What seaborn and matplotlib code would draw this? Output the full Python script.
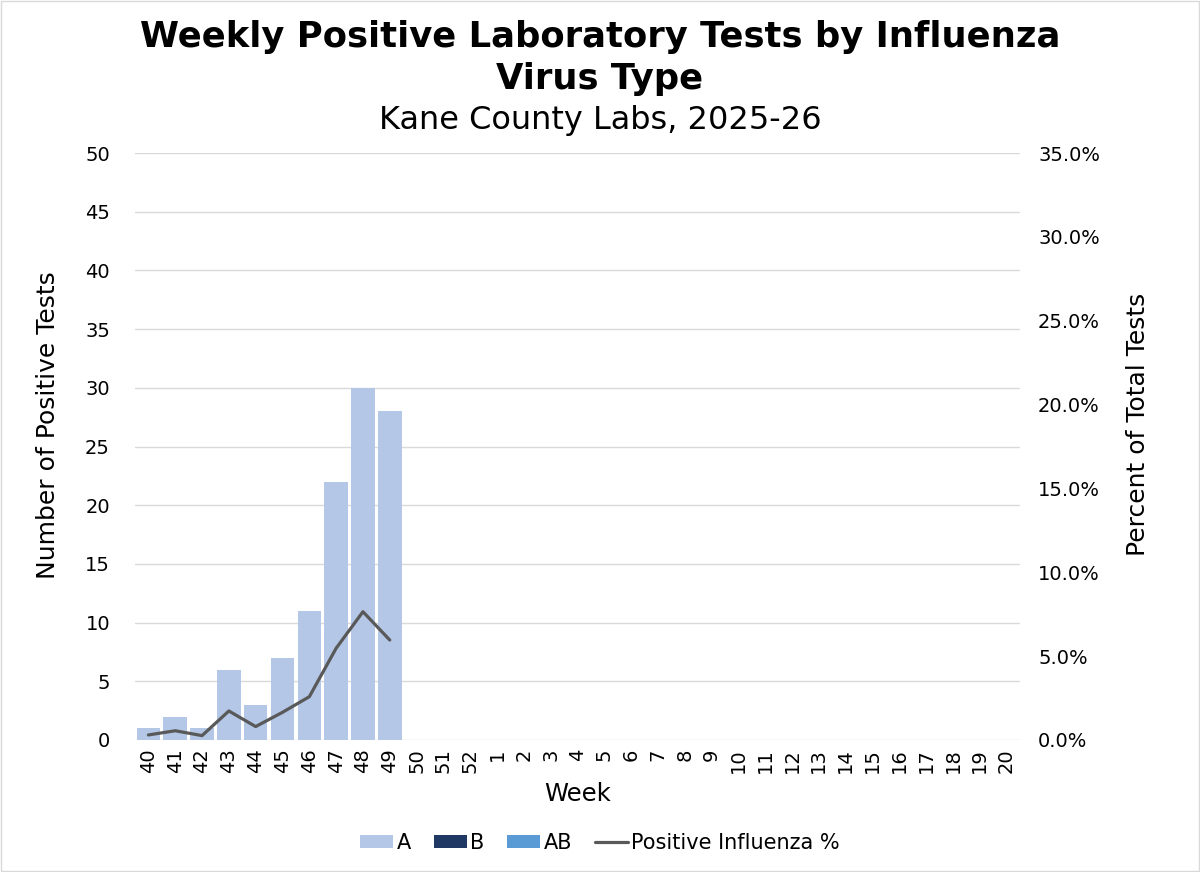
import numpy as np
import pandas as pd
import matplotlib
matplotlib.use('Agg')
import matplotlib.pyplot as plt
import seaborn as sns
from matplotlib.ticker import PercentFormatter

# data
weeks = [str(w) for w in range(40, 53)] + [str(w) for w in range(1, 21)]
count_a = [1, 2, 1, 6, 3, 7, 11, 22, 30, 28] + [0] * 23
count_b = [0] * 33
count_ab = [0] * 33
pct_positive = [0.3, 0.55, 0.26, 1.73, 0.8, 1.65, 2.58, 5.47, 7.65, 5.96]

sns.set_theme(style='white')
plt.rcParams['font.family'] = ['DejaVu Sans']
plt.rcParams['text.color'] = 'black'
plt.rcParams['axes.labelcolor'] = 'black'
plt.rcParams['xtick.color'] = 'black'
plt.rcParams['ytick.color'] = 'black'

df = pd.DataFrame({
    'Week': weeks * 3,
    'Count': count_a + count_b + count_ab,
    'Type': ['A'] * 33 + ['B'] * 33 + ['AB'] * 33,
})

fig = plt.figure(figsize=(12, 8.72), dpi=100)
ax = fig.add_axes([0.1125, 0.1514, 0.7375, 0.673])

sns.barplot(data=df, x='Week', y='Count', hue='Type', order=weeks,
            hue_order=['A', 'B', 'AB'], dodge=False, width=0.88,
            saturation=1, linewidth=0,
            palette={'A': '#B4C7E7', 'B': '#203864', 'AB': '#5B9BD5'},
            ax=ax, legend=True)

ax.set_ylim(0, 50)
ax.set_yticks(range(0, 51, 5))
ax.set_xlim(-0.5, len(weeks) - 0.5)
ax.yaxis.grid(True, color='#D9D9D9', linewidth=1)
ax.set_axisbelow(True)
for s in ax.spines.values():
    s.set_visible(False)
ax.tick_params(axis='x', rotation=90, labelsize=14, length=0, pad=6)
ax.tick_params(axis='y', labelsize=14, length=0, pad=18)
ax.set_xlabel('Week', fontsize=17.5, labelpad=6)
ax.set_ylabel('Number of Positive Tests', fontsize=18)
ax.yaxis.set_label_coords(-0.085, 0.537)

ax2 = ax.twinx()
sns.lineplot(x=np.arange(len(pct_positive)), y=pct_positive, ax=ax2,
             color='#595959', linewidth=2.3, label='Positive Influenza %',
             legend=False)
ax2.set_ylim(0, 35)
ax2.set_yticks(np.arange(0, 36, 5))
ax2.yaxis.set_major_formatter(PercentFormatter(decimals=1))
ax2.tick_params(axis='y', labelsize=14, length=0, pad=13)
ax2.set_ylabel('Percent of Total Tests', fontsize=18)
ax2.yaxis.set_label_coords(1.120, 0.537)
for s in ax2.spines.values():
    s.set_visible(False)

h1, l1 = ax.get_legend_handles_labels()
h2, l2 = ax2.get_legend_handles_labels()
ax.legend_.remove()
fig.legend(h1 + h2, l1 + l2, loc='center', bbox_to_anchor=(0.5, 0.033),
           ncol=4, frameon=False, fontsize=15, handlelength=1.6,
           handleheight=0.6, columnspacing=1.1, handletextpad=0.15)

fig.text(0.5, 0.934, 'Weekly Positive Laboratory Tests by Influenza\nVirus Type',
         ha='center', va='center', fontsize=25.5, fontweight='bold',
         linespacing=1.3)
fig.text(0.5, 0.862, 'Kane County Labs, 2025-26', ha='center', va='center',
         fontsize=23)

fig.patches.append(plt.Rectangle((0.001, 0.001), 0.998, 0.998,
                                 transform=fig.transFigure, fill=False,
                                 edgecolor='#D9D9D9', linewidth=1))

fig.savefig('out.png', dpi=100)
